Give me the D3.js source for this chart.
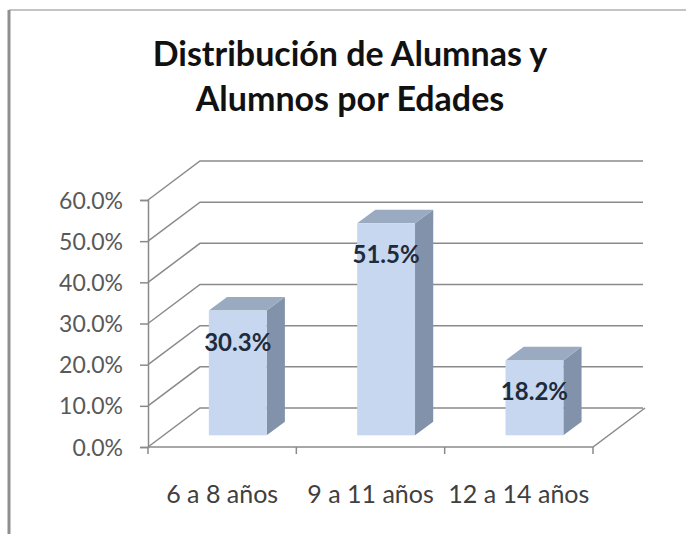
<!DOCTYPE html>
<html>
<head>
<meta charset="utf-8">
<script src="https://cdn.jsdelivr.net/npm/d3@7"></script>
<style>
  body { margin: 0; background: #fff; }
  text { font-family: Lato, "Open Sans", sans-serif; }
</style>
</head>
<body>
<div id="chart"></div>
<script>
// data
const categories = ["6 a 8 años", "9 a 11 años", "12 a 14 años"];
const values = [30.3, 51.5, 18.2];
const yTicks = [0, 10, 20, 30, 40, 50, 60];
const titleLines = ["Distribución de Alumnas y", "Alumnos por Edades"];

const W = 686, H = 534;
// depth of the 3d box and where the bars sit inside it
const depth = {dx: 52, dy: -39};
const barFront = 0.3, barBack = 0.65;

const svg = d3.select("#chart").append("svg")
  .attr("width", W).attr("height", H);

svg.append("rect").attr("width", W).attr("height", H).attr("fill", "#fff");

// frame of the chart object
svg.append("line").attr("x1", 9).attr("y1", 10).attr("x2", W).attr("y2", 10)
  .attr("stroke", "#c4c4c4").attr("stroke-width", 2);
svg.append("line").attr("x1", 9).attr("y1", 10).attr("x2", 9).attr("y2", H)
  .attr("stroke", "#8f8f8f").attr("stroke-width", 3);

// title
svg.append("g").selectAll("text").data(titleLines).enter().append("text")
  .attr("x", 350)
  .attr("y", (d, i) => 66 + i * 45)
  .attr("text-anchor", "middle")
  .attr("font-size", 34)
  .attr("font-weight", "bold")
  .attr("fill", "#111")
  .text(d => d);

const y = d3.scaleLinear().domain([0, 60]).range([447, 200]);
const x = d3.scaleBand().domain(categories).range([148, 593]);

// walls: gridlines go back along the side wall then across the back wall
const backRight = 643;
svg.append("g").selectAll("path").data(yTicks).enter().append("path")
  .attr("d", d => "M148," + y(d) + "L" + (148 + depth.dx) + "," + (y(d) + depth.dy) +
    "L" + backRight + "," + (y(d) + depth.dy))
  .attr("fill", "none")
  .attr("stroke", "#8a8a8a")
  .attr("stroke-width", 1.5);

// floor front and right edge
svg.append("path")
  .attr("d", "M148," + y(0) + "L" + x.range()[1] + "," + y(0) +
    "L" + (x.range()[1] + depth.dx) + "," + (y(0) + depth.dy))
  .attr("fill", "none")
  .attr("stroke", "#8a8a8a")
  .attr("stroke-width", 1.5);

// y axis
const yAxis = svg.append("g")
  .attr("transform", "translate(148,0)")
  .call(d3.axisLeft(y).tickValues(yTicks).tickSize(8).tickPadding(17)
    .tickFormat(d => d.toFixed(1) + "%"));
yAxis.select(".domain").attr("stroke", "#8a8a8a").attr("stroke-width", 1.5);
yAxis.selectAll(".tick line").attr("stroke", "#8a8a8a").attr("stroke-width", 1.5);
yAxis.selectAll(".tick text")
  .attr("font-size", 23).attr("fill", "#595959")
  .attr("font-family", "Lato, sans-serif")
  .attr("dy", "0.35em");

// x axis: labels at category centres, tick marks at the boundaries
const xAxis = svg.append("g")
  .attr("transform", "translate(0," + y(0) + ")")
  .call(d3.axisBottom(x).tickSize(0).tickPadding(38));
xAxis.select(".domain").remove();
xAxis.selectAll(".tick text")
  .attr("font-size", 25).attr("fill", "#404040")
  .attr("font-family", "Lato, sans-serif");

const bounds = categories.map(c => x(c)).concat([x.range()[1]]);
svg.append("g").selectAll("line").data(bounds).enter().append("line")
  .attr("x1", d => d).attr("x2", d => d)
  .attr("y1", y(0)).attr("y2", y(0) + 7)
  .attr("stroke", "#8a8a8a").attr("stroke-width", 1.5);

// 3d bars
const bw = x.bandwidth() * 0.39;
const ddx = (barBack - barFront) * depth.dx, ddy = (barBack - barFront) * depth.dy;
const bars = categories.map((c, i) => {
  const x0 = x(c) + x.bandwidth() / 2 + barFront * depth.dx - bw / 2;
  return {
    v: values[i],
    x0: x0,
    x1: x0 + bw,
    top: y(values[i]) + barFront * depth.dy,
    bot: y(0) + barFront * depth.dy
  };
});

const g = svg.append("g").selectAll("g").data(bars).enter().append("g");

g.append("polygon")
  .attr("points", d => [[d.x1, d.top], [d.x1 + ddx, d.top + ddy], [d.x1 + ddx, d.bot + ddy], [d.x1, d.bot]].join(" "))
  .attr("fill", "#8192aa");

g.append("polygon")
  .attr("points", d => [[d.x0, d.top], [d.x1, d.top], [d.x1 + ddx, d.top + ddy], [d.x0 + ddx, d.top + ddy]].join(" "))
  .attr("fill", "#9aaac1");

g.append("rect")
  .attr("x", d => d.x0).attr("y", d => d.top)
  .attr("width", bw).attr("height", d => d.bot - d.top)
  .attr("fill", "#c6d7ef");

g.append("text")
  .attr("x", d => (d.x0 + d.x1) / 2)
  .attr("y", d => d.top + 40)
  .attr("text-anchor", "middle")
  .attr("font-size", 24)
  .attr("font-weight", "bold")
  .attr("fill", "#1f2b3b")
  .text(d => d.v.toFixed(1) + "%");
</script>
</body>
</html>
